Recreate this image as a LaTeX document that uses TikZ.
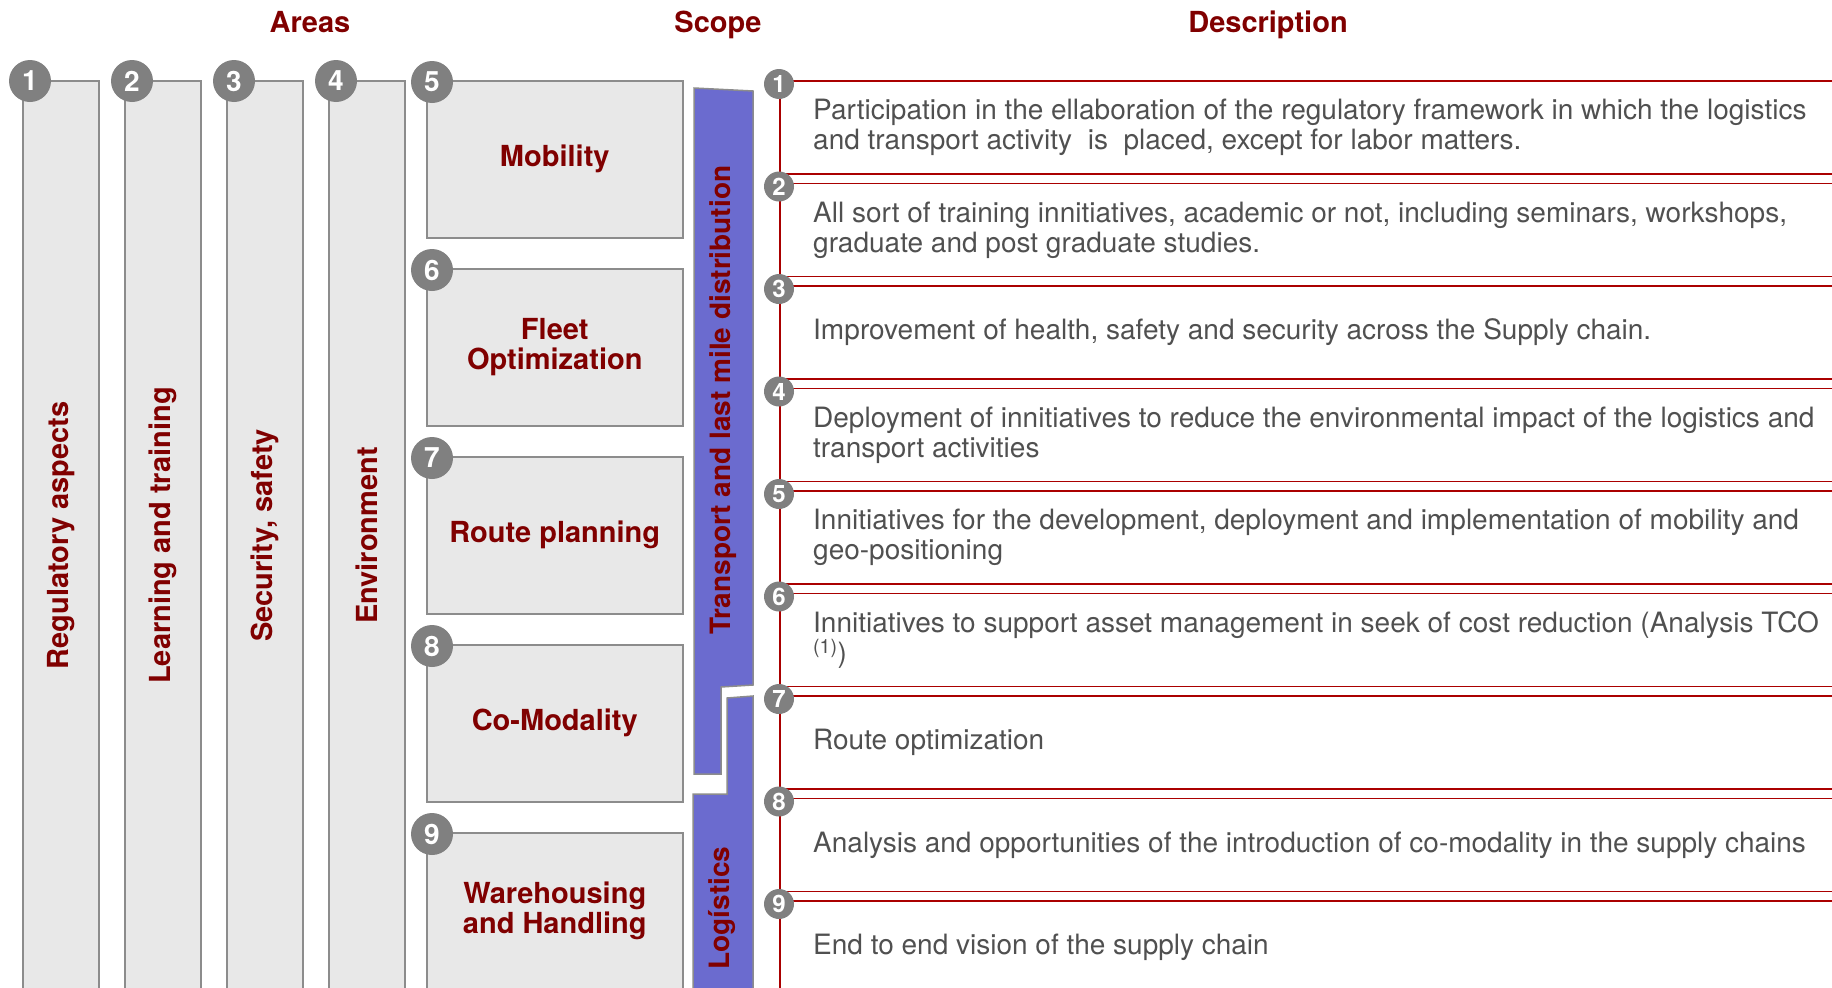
\documentclass[tikz,border=0pt]{standalone}
\usepackage{fontspec}
\setmainfont{TeX Gyre Heros}
\usepackage{tikz}
\usetikzlibrary{calc, positioning}

\definecolor{labelred}{RGB}{128,0,0}
\definecolor{boxgray}{RGB}{232,232,232}
\definecolor{edgegray}{RGB}{140,140,140}
\definecolor{badgegray}{RGB}{128,128,128}
\definecolor{scopeblue}{RGB}{107,107,207}
\definecolor{descred}{RGB}{170,0,0}
\definecolor{descgray}{RGB}{80,80,80}

\tikzset{
  headtext/.style={anchor=base, font=\fontsize{29}{32}\selectfont\bfseries, text=labelred},
  areabox/.style={draw=edgegray, fill=boxgray, line width=1.5pt, rotate=90,
    minimum width=909pt, minimum height=76pt, inner sep=0pt,
    font=\fontsize{29}{32}\selectfont\bfseries, text=labelred},
  scopebox/.style={draw=edgegray, fill=boxgray, line width=1.5pt, anchor=north west,
    minimum width=256pt, minimum height=157pt, inner sep=0pt, align=center,
    font=\fontsize{29}{30}\selectfont\bfseries, text=labelred},
  bigbadge/.style={circle, fill=badgegray, minimum size=42pt, inner sep=0pt,
    font=\fontsize{28}{28}\selectfont\bfseries, text=white},
  smallbadge/.style={circle, fill=badgegray, minimum size=30pt, inner sep=0pt,
    font=\fontsize{24}{24}\selectfont\bfseries, text=white},
  descbox/.style={draw=descred, line width=1.8pt, anchor=north west,
    minimum width=1100pt, minimum height=93pt, inner sep=0pt},
  desctext/.style={anchor=west, align=left, inner sep=0pt, text=descgray,
    font=\fontsize{28}{30}\selectfont},
  band/.style={fill=scopeblue, draw=edgegray, line width=1.5pt},
  bandlabel/.style={rotate=90, font=\fontsize{28}{30}\selectfont\bfseries, text=labelred}
}

\begin{document}
\begin{tikzpicture}[x=1pt, y=-1pt]
\pgfmathsetmacro{\colstep}{102}
\pgfmathsetmacro{\scopestep}{188}
\pgfmathsetmacro{\descstep}{102.5}
\useasboundingbox (0,0) rectangle (1832,988);

    % Headings
    \node[headtext] (hAreas) at (310,32) {Areas};
    \node[headtext] (hScope) at (718,32) {Scope};
    \node[headtext] (hDesc) at (1268,32) {Description};

    % Areas
    \foreach \i/\lbl in {1/Regulatory aspects, 2/Learning and training, 3/{Security, safety}, 4/Environment}
    {
    \node[areabox] (area\i) at ({61+(\i-1)*\colstep},535.5) {\lbl};
    \node[bigbadge] (areaBadge\i) at ({30+(\i-1)*\colstep},81) {\i};
    }

    % Scope boxes
    \foreach \i/\lbl in {5/Mobility, 6/{Fleet\\Optimization}, 7/Route planning, 8/Co-Modality, 9/{Warehousing\\and Handling}}
    {
    \node[scopebox] (scope\i) at (426,{80+(\i-5)*\scopestep}) {\lbl};
    \node[bigbadge] (scopeBadge\i) at ($(scope\i.north west)+(6,2)$) {\i};
    }

    % Bands
    \draw[band] (694,88) -- (753,91) -- (753,685) -- (721,687) -- (721,774) -- (694,774) -- cycle;
    \draw[band] (753,696) -- (727,698) -- (727,794) -- (693,794) -- (693,995) -- (753,995) -- cycle;
    \node[bandlabel] (bandTransport) at (723,400) {Transport and last mile distribution};
    \node[bandlabel] (bandLogistics) at (722,908) {Logístics};

    % Description boxes
    \foreach \i in {1,...,9}
    {
    \node[descbox] (desc\i) at (779,{80+(\i-1)*\descstep}) {};
    \node[smallbadge] (descBadge\i) at ($(desc\i.north west)+(0,4)$) {\i};
    }

    % Description texts
    \node[desctext] (txt1) at ($(desc1.west)+(34,0)$) {Participation in the ellaboration of the regulatory framework in which the logistics\\and transport activity~ is~ placed, except for labor matters.};
    \node[desctext] (txt2) at ($(desc2.west)+(34,0)$) {All sort of training innitiatives, academic or not, including seminars, workshops,\\graduate and post graduate studies.};
    \node[desctext] (txt3) at ($(desc3.west)+(34,0)$) {Improvement of health, safety and security across the Supply chain.};
    \node[desctext] (txt4) at ($(desc4.west)+(34,0)$) {Deployment of innitiatives to reduce the environmental impact of the logistics and\\transport activities};
    \node[desctext] (txt5) at ($(desc5.west)+(34,0)$) {Innitiatives for the development, deployment and implementation of mobility and\\geo-positioning};
    \node[desctext] (txt6) at ($(desc6.west)+(34,0)$) {Innitiatives to support asset management in seek of cost reduction (Analysis TCO\\\textsuperscript{(1)})};
    \node[desctext] (txt7) at ($(desc7.west)+(34,0)$) {Route optimization};
    \node[desctext] (txt8) at ($(desc8.west)+(34,0)$) {Analysis and opportunities of the introduction of co-modality in the supply chains};
    \node[desctext] (txt9) at ($(desc9.west)+(34,0)$) {End to end vision of the supply chain};

\end{tikzpicture}
\end{document}
